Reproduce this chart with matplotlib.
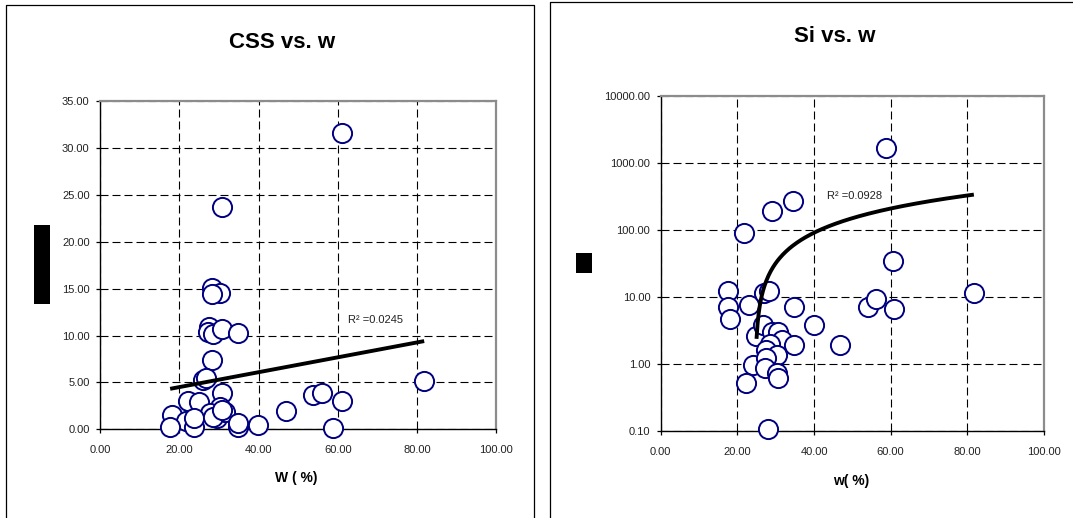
import numpy as np
import matplotlib
matplotlib.use("Agg")
import matplotlib.pyplot as plt
from matplotlib.patches import Rectangle
from matplotlib.lines import Line2D
from matplotlib.ticker import FixedLocator, FormatStrFormatter, NullLocator

plt.rcParams["font.family"] = ["Liberation Sans", "DejaVu Sans"]

# ---- CSS vs. w ----
w_css = [61.0, 30.9, 28.2, 30.3, 28.2, 27.5, 27.3, 28.6, 30.9, 34.7,
         28.2, 26.1, 26.7, 30.7, 22.1, 25.1, 30.3, 27.8, 29.4, 31.5,
         18.1, 21.6, 17.7, 23.8, 34.7, 39.95, 46.9, 53.8, 55.9, 61.1,
         58.9, 81.8, 23.8, 28.6, 30.8, 34.7]
css = [31.6, 23.66, 15.05, 14.56, 14.45, 10.9, 10.37, 10.2, 10.73, 10.27,
       7.37, 5.24, 5.52, 3.9, 3.04, 2.87, 2.4, 1.77, 1.17, 1.87,
       1.52, 0.88, 0.21, 0.21, 0.28, 0.46, 1.98, 3.65, 3.82, 3.04,
       0.1, 5.13, 1.2, 1.35, 2.06, 0.65]
css_trend_slope = 0.0794
css_trend_intercept = 2.91
css_r2_label = "R\u00b2 =0.0245"

# ---- Si vs. w ----
w_si = [58.7, 34.6, 29.0, 21.8, 17.5, 17.5, 18.1, 23.1, 27.0, 28.3,
        34.8, 40.0, 46.8, 24.9, 26.8, 29.0, 30.7, 31.6, 34.8, 28.5,
        27.6, 30.3, 24.2, 27.5, 27.2, 30.3, 30.7, 22.3, 27.9, 60.7,
        54.2, 56.2, 60.9, 81.7]
si = [1680, 271, 188, 88, 12.2, 6.95, 4.64, 7.5, 11.2, 12.2,
      6.95, 3.78, 1.9, 2.62, 3.78, 3.0, 3.0, 2.26, 1.9, 2.0,
      1.6, 1.35, 0.96, 1.2, 0.85, 0.72, 0.605, 0.51, 0.106, 34.4,
      6.95, 9.25, 6.46, 11.5]
si_trend_slope = 5.85
si_trend_intercept = -143.9
si_trend_start = 25.0
si_r2_label = "R\u00b2 =0.0928"

x_ticks = [0, 20, 40, 60, 80, 100]
css_ticks = [0, 5, 10, 15, 20, 25, 30, 35]
si_ticks = [0.1, 1, 10, 100, 1000, 10000]

W, H = 1073, 518
fig = plt.figure(figsize=(W / 100, H / 100), dpi=100)
fig.patch.set_facecolor("white")


def fbox(x0, y0, x1, y1):
    """Pixel box (top-left origin) -> figure fraction [l, b, w, h]."""
    return [x0 / W, 1 - y1 / H, (x1 - x0) / W, (y1 - y0) / H]


def fline(xs, ys, lw=0.9):
    fig.add_artist(Line2D([x / W for x in xs], [1 - y / H for y in ys],
                          transform=fig.transFigure, color="black", lw=lw))


# chart frames
fline([6, 6, 534, 534], [H + 2, 5, 5, H + 2])
fline([550.3, 550.3, W + 2], [H + 2, 1.7, 1.7])

GRID_DASH = (0, (7.2, 3.6))
EDGE = "#000080"


def style_axes(ax):
    ax.set_axisbelow(True)
    ax.grid(True, which="major", color="black", lw=0.8, linestyle=GRID_DASH)
    for side in ("top", "right"):
        ax.spines[side].set_color("#8c8c8c")
        ax.spines[side].set_linewidth(1.6)
    for side in ("left", "bottom"):
        ax.spines[side].set_color("black")
        ax.spines[side].set_linewidth(1.0)
    ax.tick_params(which="major", direction="out", length=3, width=0.9,
                   labelsize=8, labelcolor="#222222", color="black")
    ax.tick_params(axis="x", pad=8.5)
    ax.tick_params(axis="y", pad=4.5)
    ax.xaxis.set_major_locator(FixedLocator(x_ticks))
    ax.xaxis.set_major_formatter(FormatStrFormatter("%.2f"))
    ax.xaxis.set_minor_locator(NullLocator())
    ax.yaxis.set_minor_locator(NullLocator())
    ax.set_xlim(0, 100)


# ---- left chart ----
ax1 = fig.add_axes(fbox(100, 101, 496.3, 429.3))
style_axes(ax1)
ax1.set_ylim(0, 35)
ax1.yaxis.set_major_locator(FixedLocator(css_ticks))
ax1.yaxis.set_major_formatter(FormatStrFormatter("%.2f"))
ax1.plot(w_css, css, linestyle="none", marker="o", markersize=13.8,
         markerfacecolor="white", markeredgecolor=EDGE, markeredgewidth=1.4,
         clip_on=False, zorder=3)
tx = np.linspace(min(w_css), max(w_css), 50)
ax1.plot(tx, css_trend_slope * tx + css_trend_intercept, color="black",
         lw=2.8, solid_capstyle="butt", zorder=4)
ax1.text(62.6, 11.6, css_r2_label, fontsize=8, color="#222222",
         ha="left", va="center")

fig.text(282 / W, 1 - 42.7 / H, "CSS vs. w", fontsize=16, fontweight="bold",
         ha="center", va="center")
fig.text(296 / W, 1 - 478 / H, "W ( %)", fontsize=10, fontweight="bold",
         ha="center", va="center")
fig.add_artist(Rectangle((34.4 / W, 1 - 304 / H), 15.6 / W, 79 / H,
                         transform=fig.transFigure, facecolor="black",
                         edgecolor="none"))

# ---- right chart ----
ax2 = fig.add_axes(fbox(660.7, 95.7, 1044, 430.7))
ax2.set_yscale("log")
style_axes(ax2)
ax2.set_ylim(0.1, 10000)
ax2.yaxis.set_major_locator(FixedLocator(si_ticks))
ax2.yaxis.set_major_formatter(FormatStrFormatter("%.2f"))
ax2.yaxis.set_minor_locator(NullLocator())
ax2.plot(w_si, si, linestyle="none", marker="o", markersize=13.8,
         markerfacecolor="white", markeredgecolor=EDGE, markeredgewidth=1.4,
         clip_on=False, zorder=3)
sx = np.linspace(si_trend_start, max(w_si), 200)
ax2.plot(sx, si_trend_slope * sx + si_trend_intercept, color="black",
         lw=2.8, solid_capstyle="butt", zorder=4)
ax2.text(43.3, 318, si_r2_label, fontsize=8, color="#222222",
         ha="left", va="center")

fig.text(835 / W, 1 - 36.7 / H, "Si vs. w", fontsize=16, fontweight="bold",
         ha="center", va="center")
fig.text(850.7 / W, 1 - 480.7 / H, "w( %)", fontsize=10, fontweight="bold",
         ha="center", va="center")
fig.add_artist(Rectangle((575.7 / W, 1 - 273 / H), 16.3 / W, 20 / H,
                         transform=fig.transFigure, facecolor="black",
                         edgecolor="none"))

fig.savefig("out.png", dpi=100, facecolor="white")
